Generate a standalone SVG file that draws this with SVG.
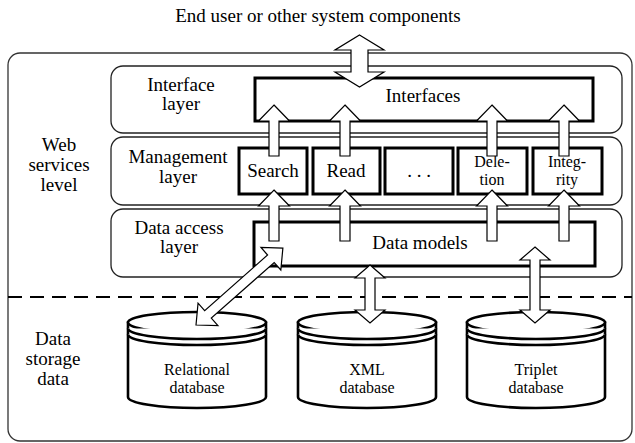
<svg xmlns="http://www.w3.org/2000/svg" width="635" height="443" viewBox="0 0 635 443">
<style>
text{font-family:'Liberation Serif','DejaVu Serif',serif;font-size:19px;fill:#000;text-anchor:middle}
text.s{font-size:16px}
.frame{fill:none;stroke:#333;stroke-width:1.3}
.layer{fill:none;stroke:#222;stroke-width:1.3}
.box{fill:#fff;stroke:#000;stroke-width:3}
.arr{fill:#fff;stroke:#000;stroke-width:1.2;stroke-linejoin:miter}
.db{fill:#fff;stroke:#000;stroke-width:2.6}
.dash{stroke:#000;stroke-width:2;stroke-dasharray:14 8;fill:none}
</style>
<defs>
<polygon id="up" class="arr" points="0,0 15.5,16 5,16 5,51 -5,51 -5,16 -15.5,16"/>
</defs>
<rect width="635" height="443" fill="#fff"/>
<text x="318" y="22">End user or other system components</text>
<rect class="frame" x="8" y="53" width="624" height="388" rx="12"/>
<line class="dash" x1="8" y1="297" x2="632" y2="297"/>
<g id="web-services-level">
<text x="59" y="151">Web<tspan x="59" dy="20">services</tspan><tspan x="59" dy="20">level</tspan></text>
</g>
<g id="data-storage-level">
<text x="53" y="345">Data<tspan x="53" dy="20">storage</tspan><tspan x="53" dy="20">data</tspan></text>
</g>
<g id="interface-layer">
<rect class="layer" x="111" y="66" width="511" height="67" rx="12"/>
<text x="181" y="91">Interface<tspan x="181" dy="19">layer</tspan></text>
</g>
<g id="management-layer">
<rect class="layer" x="111" y="137" width="511" height="68" rx="12"/>
<text x="178" y="163">Management<tspan x="178" dy="20">layer</tspan></text>
</g>
<g id="data-access-layer">
<rect class="layer" x="111" y="209" width="511" height="68" rx="12"/>
<text x="179" y="234">Data access<tspan x="179" dy="19">layer</tspan></text>
</g>
<g id="interfaces">
<rect class="box" x="255" y="78" width="338" height="43"/>
<text x="423" y="102">Interfaces</text>
</g>
<g id="search">
<rect class="box" x="239" y="148" width="68" height="46"/>
<text x="273" y="177">Search</text>
</g>
<g id="read">
<rect class="box" x="313" y="148" width="67" height="46"/>
<text x="346" y="177">Read</text>
</g>
<g id="etc">
<rect class="box" x="385" y="148" width="68" height="46"/>
<text x="419" y="177">. . .</text>
</g>
<g id="deletion">
<rect class="box" x="458" y="148" width="69" height="46"/>
<text class="s" x="492" y="167">Dele-<tspan x="492" dy="18">tion</tspan></text>
</g>
<g id="integrity">
<rect class="box" x="533" y="148" width="69" height="46"/>
<text class="s" x="567" y="167">Integ-<tspan x="567" dy="18">rity</tspan></text>
</g>
<g id="data-models">
<rect class="box" x="254" y="222" width="341" height="44"/>
<text x="420" y="249">Data models</text>
</g>
<g id="relational-db">
<path class="db" d="M128,322.5 V397 A69,11 0 0 0 266,397 V322.5 Z"/>
<ellipse class="db" cx="197" cy="322.5" rx="69" ry="10.5"/>
<path class="db" fill="none" d="M128,328.5 A69,10.5 0 0 0 266,328.5 M128,334.5 A69,10.5 0 0 0 266,334.5"/>
<text class="s" x="197" y="375">Relational<tspan x="197" dy="18">database</tspan></text>
</g>
<g id="xml-db">
<path class="db" d="M298,322.5 V397 A69,11 0 0 0 436,397 V322.5 Z"/>
<ellipse class="db" cx="367" cy="322.5" rx="69" ry="10.5"/>
<path class="db" fill="none" d="M298,328.5 A69,10.5 0 0 0 436,328.5 M298,334.5 A69,10.5 0 0 0 436,334.5"/>
<text class="s" x="367" y="375">XML<tspan x="367" dy="18">database</tspan></text>
</g>
<g id="triplet-db">
<path class="db" d="M467,322.5 V397 A69,11 0 0 0 605,397 V322.5 Z"/>
<ellipse class="db" cx="536" cy="322.5" rx="69" ry="10.5"/>
<path class="db" fill="none" d="M467,328.5 A69,10.5 0 0 0 605,328.5 M467,334.5 A69,10.5 0 0 0 605,334.5"/>
<text class="s" x="536" y="375">Triplet<tspan x="536" dy="18">database</tspan></text>
</g>
<g id="connectors">
<polygon class="arr" points="359.5,35 384,50 368,50 368,72 384,72 359.5,87 335,72 351,72 351,50 335,50"/>
<use href="#up" x="274" y="105"/>
<use href="#up" x="345" y="105"/>
<use href="#up" x="492" y="105"/>
<use href="#up" x="564" y="105"/>
<use href="#up" x="274" y="190"/>
<use href="#up" x="345" y="190"/>
<use href="#up" x="492" y="190"/>
<use href="#up" x="564" y="190"/>
<polygon class="arr" points="370,265 385,278 375,278 375,310 385,310 370,323 355,310 365,310 365,278 355,278"/>
<polygon class="arr" points="535,247 550,260 540,260 540,310 550,310 535,323 520,310 530,310 530,260 520,260"/>
<polygon class="arr" transform="translate(196,325) rotate(-41.5)" points="0,0 16,-15 16,-5 100,-5 100,-15 116,0 100,15 100,5 16,5 16,15"/>
</g>
</svg>
